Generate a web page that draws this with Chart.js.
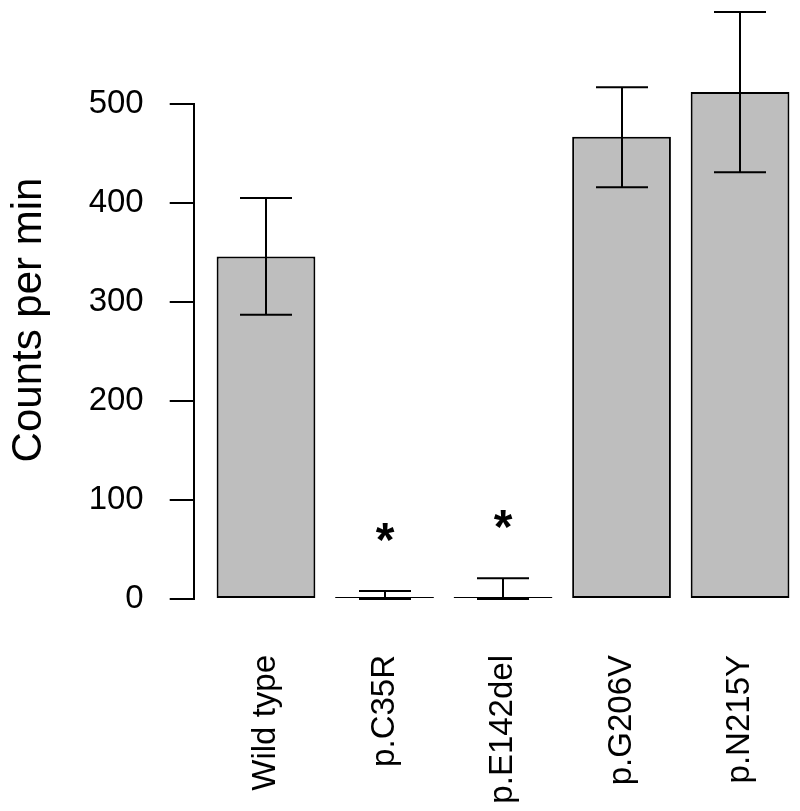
<!DOCTYPE html>
<html><head><meta charset="utf-8">
<script src="https://cdn.jsdelivr.net/npm/chart.js@4.4.1/dist/chart.umd.min.js"></script>
<style>html,body{margin:0;padding:0;background:#fff;overflow:hidden}#wrap{width:800px;height:811px}</style>
</head><body><div id="wrap"><canvas id="c" width="800" height="811"></canvas></div>
<script>
// ---- data ----
const categories = ['Wild type', 'p.C35R', 'p.E142del', 'p.G206V', 'p.N215Y'];
const counts = [346, 1, 1, 467, 512];
const errLow = [287, 0, 0, 416, 431];
const errHigh = [405, 8, 21, 517, 593];
const significance = ['', '*', '*', '', ''];
const yTicks = [0, 100, 200, 300, 400, 500];
const yTitle = 'Counts per min';

// ---- layout (barplot units: bar width 1, space 0.2) ----
const barCenters = categories.map((_, i) => 0.7 + 1.2 * i);
const FONT = "'Liberation Sans', Arial, Helvetica, sans-serif";

const errorBars = {
  id: 'errorBars',
  afterDatasetsDraw(chart) {
    const {ctx, scales: {x, y}} = chart;
    ctx.save();
    ctx.strokeStyle = '#000';
    ctx.lineWidth = 2;
    const cap = 26;
    barCenters.forEach((c, i) => {
      const px = Math.round(x.getPixelForValue(c));
      const yl = y.getPixelForValue(errLow[i]);
      const yh = y.getPixelForValue(errHigh[i]);
      ctx.beginPath();
      ctx.moveTo(px, yl); ctx.lineTo(px, yh);
      ctx.moveTo(px - cap, yh); ctx.lineTo(px + cap, yh);
      ctx.moveTo(px - cap, yl); ctx.lineTo(px + cap, yl);
      ctx.stroke();
      if (significance[i]) {
        ctx.font = 'bold 48px ' + FONT;
        ctx.fillStyle = '#000';
        ctx.textAlign = 'center';
        ctx.textBaseline = 'alphabetic';
        const m = ctx.measureText(significance[i]);
        const cy = yh - 59;
        const base = cy + (m.actualBoundingBoxAscent - m.actualBoundingBoxDescent) / 2;
        ctx.fillText(significance[i], px, base);
      }
    });
    // y axis title (R centres it on the whole plot region)
    ctx.save();
    ctx.translate(29, 320);
    ctx.rotate(-Math.PI / 2);
    ctx.font = '42px ' + FONT;
    ctx.fillStyle = '#000';
    ctx.textAlign = 'center';
    ctx.textBaseline = 'middle';
    ctx.fillText(yTitle, 0, 0);
    ctx.restore();
    ctx.restore();
  }
};

new Chart(document.getElementById('c'), {
  type: 'bar',
  data: {
    datasets: [{
      data: counts.map((v, i) => ({x: barCenters[i], y: v})),
      backgroundColor: '#BEBEBE',
      borderColor: '#000',
      borderWidth: 2,
      borderSkipped: false,
      barPercentage: 1 / 1.2,
      categoryPercentage: 1,
      minBarLength: 2,
      clip: false
    }]
  },
  options: {
    responsive: false,
    animation: false,
    devicePixelRatio: 1,
    layout: {padding: {left: 0, right: 0, top: 104, bottom: 0}},
    plugins: {legend: {display: false}, tooltip: {enabled: false}},
    scales: {
      x: {
        type: 'linear', min: -0.032, max: 6.107, offset: false,
        afterBuildTicks: s => { s.ticks = barCenters.map(v => ({value: v})); },
        afterFit: s => { s.height = 811 - 599; s.paddingLeft = 0; s.paddingRight = 0; },
        grid: {display: false, drawTicks: false},
        border: {display: false},
        ticks: {
          autoSkip: false, minRotation: 90, maxRotation: 90, padding: 56,
          color: '#000', font: {family: FONT, size: 33},
          callback: (v, i) => categories[i]
        }
      },
      y: {
        min: 0, max: 500,
        afterBuildTicks: s => { s.ticks = yTicks.map(v => ({value: v})); },
        afterFit: s => { s.width = 193.7; s.paddingTop = 0; s.paddingBottom = 0; },
        grid: {drawOnChartArea: false, tickLength: 24, color: '#000', lineWidth: 2},
        border: {display: true, color: '#000', width: 2},
        ticks: {padding: 26, color: '#000', font: {family: FONT, size: 33}},
        title: {display: false}
      }
    }
  },
  plugins: [errorBars]
});
</script>
</body></html>
